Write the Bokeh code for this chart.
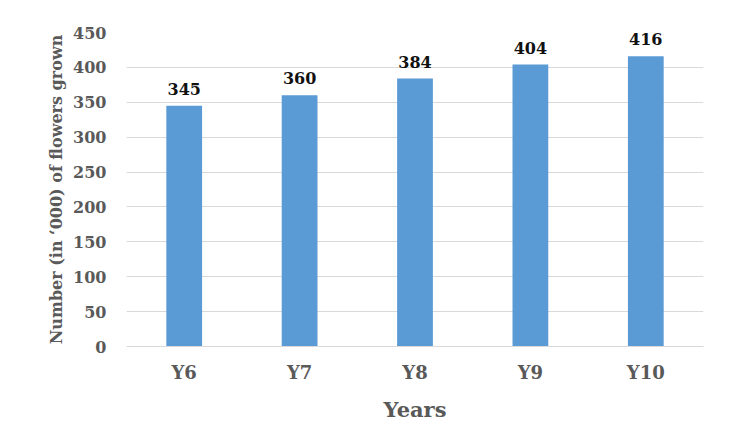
from bokeh.plotting import figure
from bokeh.models import ColumnDataSource, LabelSet, SingleIntervalTicker, Range1d
from bokeh.core.properties import value
from bokeh.embed import file_html
from bokeh.resources import INLINE

years = ["Y6", "Y7", "Y8", "Y9", "Y10"]
flowers = [345, 360, 384, 404, 416]
labels = [str(v) for v in flowers]

src = ColumnDataSource(dict(x=years, y=flowers, t=labels))

FONT = "DejaVu Serif"
GRAY = "#595959"

p = figure(x_range=years, y_range=Range1d(0, 450), width=726, height=424,
           output_backend="svg", toolbar_location=None,
           min_border_left=126, min_border_right=23, min_border_top=32, min_border_bottom=78)
p.outline_line_color = None
p.background_fill_color = "white"

p.vbar(x="x", top="y", width=0.31, source=src, color="#5B9BD5", line_color=None)

p.add_layout(LabelSet(x="x", y="y", text="t", source=src, text_align="center",
                      text_baseline="bottom", y_offset=11, text_font=value(FONT),
                      text_font_style="bold", text_font_size="16px", text_color="#111111"))

p.yaxis.ticker = SingleIntervalTicker(interval=50)
p.ygrid.grid_line_color = "#d9d9d9"
p.xgrid.grid_line_color = None
p.yaxis.axis_line_color = None
p.xaxis.axis_line_color = "#d9d9d9"
for ax in (p.xaxis, p.yaxis):
    ax.major_tick_line_color = None
    ax.minor_tick_line_color = None
    ax.major_label_text_font = FONT
    ax.major_label_text_font_style = "bold"
    ax.major_label_text_color = GRAY
    ax.axis_label_text_font = FONT
    ax.axis_label_text_font_style = "bold"
    ax.axis_label_text_color = GRAY

p.yaxis.major_label_text_font_size = "16px"
p.yaxis.major_label_standoff = 14
p.yaxis.axis_label = "Number (in \u2018000) of flowers grown"
p.yaxis.axis_label_text_font_size = "16px"
p.yaxis.axis_label_standoff = 4

p.xaxis.major_label_text_font_size = "18px"
p.xaxis.major_label_standoff = 9
p.xaxis.axis_label = "Years"
p.xaxis.axis_label_text_font_size = "21px"
p.xaxis.axis_label_standoff = 11

open("out.html", "w").write(file_html(p, INLINE))
